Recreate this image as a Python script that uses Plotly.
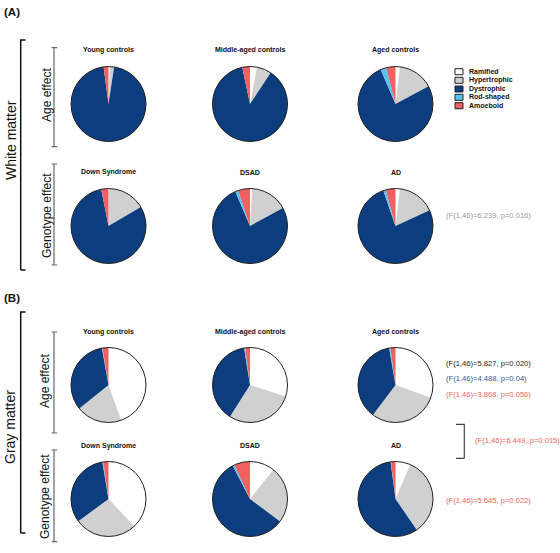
import plotly.graph_objects as go

W, H = 560, 553

categories = ["Ramified", "Hypertrophic", "Dystrophic", "Rod-shaped", "Amoeboid"]
colors = ["#ffffff", "#d0d0d0", "#0b3d7f", "#55c3f0", "#f06262"]

row1_titles = ["Young controls", "Middle-aged controls", "Aged controls"]
row2_titles = ["Down Syndrome", "DSAD", "AD"]

# White matter (% of microglia per morphology)
wm_young = [0.5, 1.9, 95.5, 0.0, 2.1]
wm_middle = [3.0, 6.3, 87.4, 0.0, 3.3]
wm_aged = [1.9, 15.3, 76.3, 2.5, 4.0]
wm_ds = [0.3, 16.3, 80.3, 0.0, 3.1]
wm_dsad = [1.0, 16.0, 76.6, 1.3, 5.1]
wm_ad = [1.9, 16.2, 76.6, 1.1, 4.2]

# Gray matter
gm_young = [44.5, 19.7, 33.0, 0.3, 2.5]
gm_middle = [30.0, 29.0, 38.5, 0.5, 2.0]
gm_aged = [30.5, 29.8, 37.0, 0.5, 2.2]
gm_ds = [37.9, 27.0, 32.5, 0.4, 2.2]
gm_dsad = [10.7, 24.5, 57.2, 0.8, 6.8]
gm_ad = [6.4, 34.0, 57.5, 0.2, 1.9]

stats_texts = [
    "(F(1,46)=6.239, p=0.016)",
    "(F(1,46)=5.827, p=0.020)",
    "(F(1,46)=4.488, p=0.04)",
    "(F(1,46)=3.868, p=0.056)",
    "(F(1,46)=6.449, p=0.015)",
    "(F(1,46)=5.645, p=0.022)",
]

FONT = "Arial, Liberation Sans, sans-serif"

col_x = [108.5, 250.0, 395.5]
row_y = [104.0, 226.0, 385.0, 499.0]
title_y = [50.0, 172.5, 331.5, 445.5]
R = 37.5

def px(x):
    return x / W

def py(y):
    return 1 - y / H

grid = [
    [wm_young, wm_middle, wm_aged],
    [wm_ds, wm_dsad, wm_ad],
    [gm_young, gm_middle, gm_aged],
    [gm_ds, gm_dsad, gm_ad],
]
titles = [row1_titles, row2_titles, row1_titles, row2_titles]

fig = go.Figure()
shapes = []
annotations = []

for r, row in enumerate(grid):
    for c, vals in enumerate(row):
        cx, cy = col_x[c], row_y[r]
        fig.add_trace(go.Pie(
            labels=categories, values=vals, sort=False,
            direction="clockwise", rotation=0,
            marker=dict(colors=colors, line=dict(width=0)),
            textinfo="none", showlegend=False,
            domain=dict(x=[px(cx - R), px(cx + R)], y=[py(cy + R), py(cy - R)]),
        ))
        shapes.append(dict(type="circle", xref="paper", yref="paper",
                           x0=px(cx - R), x1=px(cx + R), y0=py(cy + R), y1=py(cy - R),
                           line=dict(color="#222", width=1)))
        annotations.append(dict(text="<b>%s</b>" % titles[r][c], x=px(cx), y=py(title_y[r]),
                                xref="paper", yref="paper", showarrow=False,
                                xanchor="center", yanchor="middle",
                                font=dict(family=FONT, size=7, color="#111")))

# Panel letters
for txt, y in [("(A)", 12), ("(B)", 298)]:
    annotations.append(dict(text="<b>%s</b>" % txt, x=px(2), y=py(y), xref="paper", yref="paper",
                            showarrow=False, xanchor="left", yanchor="middle",
                            font=dict(family=FONT, size=11.5, color="#111")))

# Rotated labels
rot_labels = [
    ("White matter", 11, 140, 14),
    ("Age effect", 47, 95, 12),
    ("Genotype effect", 47, 215, 12),
    ("Gray matter", 10, 427, 14),
    ("Age effect", 45, 381, 12),
    ("Genotype effect", 45, 497, 12),
]
for txt, x, y, s in rot_labels:
    annotations.append(dict(text=txt, x=px(x), y=py(y), xref="paper", yref="paper",
                            showarrow=False, textangle=-90, xanchor="center", yanchor="middle",
                            font=dict(family=FONT, size=s, color="#111")))

def bracket(x, y0, y1, t0, t1, color, width):
    path = "M %f %f L %f %f L %f %f L %f %f M %f %f L %f %f" % (
        px(t1), py(y0), px(t0), py(y0), px(x), py(y0), px(x), py(y1), px(t0), py(y1), px(t1), py(y1))
    shapes.append(dict(type="path", xref="paper", yref="paper", path=path,
                       line=dict(color=color, width=width)))

# big brackets
bracket(20.7, 40, 270, 20.7, 25.5, "#111", 1.5)
bracket(20.7, 312, 533, 20.7, 25.5, "#111", 1.5)
# small brackets
for y0, y1 in [(47.7, 146.7), (164, 265), (332, 433), (450, 541.7)]:
    bracket(54, y0, y1, 51.7, 57.3, "#666", 1.2)
# right bracket
bracket(464.3, 424.3, 458.3, 464.3, 456, "#444", 1.2)

# Legend (custom)
leg_y = [71.7, 80.3, 89.0, 97.3, 105.7]
for lab, col, y in zip(categories, colors, leg_y):
    shapes.append(dict(type="rect", xref="paper", yref="paper",
                       x0=px(455), x1=px(463), y0=py(y + 3), y1=py(y - 3),
                       fillcolor=col, line=dict(color="#222", width=1)))
    annotations.append(dict(text="<b>%s</b>" % lab, x=px(466.5), y=py(y), xref="paper", yref="paper",
                            showarrow=False, xanchor="left", yanchor="middle",
                            font=dict(family=FONT, size=7, color="#111")))

# Stats texts
stats_pos = [
    (444, 215, "#999999"),
    (444, 363.3, "#222222"),
    (444, 378.7, "#2b5a9c"),
    (444, 394.3, "#f06262"),
    (473, 440, "#f06262"),
    (444, 500, "#f06262"),
]
for txt, (x, y, col) in zip(stats_texts, stats_pos):
    annotations.append(dict(text=txt, x=px(x), y=py(y), xref="paper", yref="paper",
                            showarrow=False, xanchor="left", yanchor="middle",
                            font=dict(family=FONT, size=7.6, color=col)))

fig.update_layout(
    width=W, height=H,
    margin=dict(l=0, r=0, t=0, b=0),
    paper_bgcolor="white", plot_bgcolor="white",
    shapes=shapes, annotations=annotations,
    showlegend=False,
)

# remove the default page margin so the figure fills the window exactly
fig.write_html("out.html", config={"displayModeBar": False},
               post_script="document.body.style.margin='0';document.body.style.overflow='hidden';")
